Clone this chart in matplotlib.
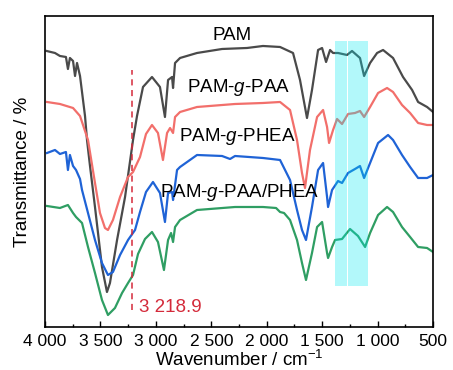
import numpy as np
import matplotlib
matplotlib.use('Agg')
import matplotlib.pyplot as plt
from matplotlib.ticker import MultipleLocator

plt.rcParams['font.family'] = ['Liberation Sans', 'DejaVu Sans']
plt.rcParams['mathtext.fontset'] = 'custom'
plt.rcParams['mathtext.rm'] = 'Liberation Sans'
plt.rcParams['mathtext.it'] = 'Liberation Sans:italic'

# wavenumber (cm-1) and transmittance (a.u., curves are offset)
pam_x = [3985, 3910, 3865, 3811, 3793, 3775, 3747, 3729, 3711, 3684, 3639, 3621, 3594, 3549,
         3486, 3441, 3414, 3350, 3278, 3206, 3170, 3116, 3035, 2963, 2918, 2890, 2854, 2845,
         2827, 2782, 2629, 2403, 2178, 2034, 1880, 1763, 1700, 1637, 1592, 1537, 1501, 1465,
         1429, 1402, 1357, 1276, 1231, 1159, 1122, 1068, 1005, 951, 861, 771, 689, 635, 554, 500]
pam_y = [276, 274, 271, 270, 258, 269, 266, 251, 264, 251, 211, 187, 161, 120,
         60, 35, 44, 87, 130, 187, 211, 240, 250, 240, 210, 247, 250, 239,
         264, 269, 274, 278, 279, 281, 280, 274, 247, 209, 237, 277, 279, 265,
         277, 274, 274, 272, 276, 269, 251, 264, 274, 277, 269, 250, 237, 225, 220, 215]

paa_x = [3982, 3865, 3747, 3684, 3612, 3549, 3504, 3459, 3432, 3387, 3323, 3251, 3206, 3143,
         3089, 3035, 2981, 2936, 2899, 2872, 2845, 2827, 2782, 2629, 2286, 2034, 1880, 1790,
         1727, 1682, 1655, 1610, 1546, 1492, 1456, 1438, 1402, 1366, 1321, 1267, 1204, 1159,
         1122, 1068, 996, 915, 861, 780, 707, 635, 554, 500]
paa_y = [225, 223, 219, 211, 187, 144, 114, 99, 97, 107, 130, 150, 155, 170,
         193, 202, 194, 167, 194, 199, 194, 210, 215, 220, 223, 224, 225, 217,
         187, 154, 139, 177, 210, 217, 200, 184, 197, 208, 203, 213, 214, 216,
         210, 220, 234, 239, 235, 222, 214, 204, 202, 202]

phea_x = [3982, 3910, 3865, 3811, 3793, 3775, 3747, 3720, 3684, 3666, 3612, 3549, 3486, 3432,
          3387, 3323, 3251, 3188, 3143, 3089, 3026, 2963, 2918, 2890, 2854, 2845, 2809, 2782,
          2629, 2403, 2331, 2286, 2034, 1880, 1790, 1727, 1682, 1646, 1592, 1537, 1492, 1456,
          1447, 1411, 1357, 1321, 1267, 1204, 1159, 1122, 1068, 996, 906, 861, 780, 707, 635,
          554, 500]
phea_y = [174, 177, 173, 175, 157, 172, 161, 157, 148, 137, 114, 87, 64, 52,
          55, 72, 87, 97, 115, 135, 145, 134, 105, 134, 135, 127, 157, 160,
          172, 171, 168, 171, 169, 167, 147, 117, 97, 87, 120, 157, 164, 130,
          120, 137, 146, 144, 154, 158, 161, 149, 164, 184, 192, 187, 172, 160, 149,
          149, 152]

mix_x = [3982, 3865, 3793, 3747, 3720, 3666, 3612, 3549, 3486, 3432, 3369, 3305, 3251, 3206,
         3161, 3098, 3035, 2981, 2927, 2890, 2863, 2845, 2827, 2782, 2629, 2286, 2034, 1916,
         1880, 1844, 1790, 1727, 1682, 1646, 1592, 1546, 1501, 1456, 1447, 1411, 1384, 1321,
         1249, 1177, 1113, 1068, 996, 915, 861, 780, 707, 635, 554, 500]
mix_y = [121, 119, 122, 114, 110, 104, 80, 54, 27, 12, 19, 34, 44, 52,
         73, 88, 95, 85, 57, 87, 94, 85, 100, 107, 117, 120, 120, 119,
         115, 114, 107, 87, 64, 47, 74, 100, 105, 74, 69, 80, 87, 88,
         98, 91, 80, 94, 112, 120, 115, 100, 90, 80, 79, 75]

names = ['PAM', 'PAM-$\\mathit{g}$-PAA', 'PAM-$\\mathit{g}$-PHEA', 'PAM-$\\mathit{g}$-PAA/PHEA']
colors = ['#4a4a4a', '#f26f6b', '#1f63d6', '#2f9e63']
label_x = [2313, 2259, 2268, 2241]
label_y = [291, 239, 190, 134]

bands = [(1385, 1277), (1266, 1086)]
band_y = (41, 286)
peak = 3218.9

xticks = [4000, 3500, 3000, 2500, 2000, 1500, 1000, 500]
xtick_labels = ['4 000', '3 500', '3 000', '2 500', '2 000', '1 500', '1 000', '500']

fig = plt.figure(figsize=(4.53, 3.70), dpi=100)
ax = fig.add_axes([0.0993, 0.1162, 0.8567, 0.8406])

series = [(pam_x, pam_y), (paa_x, paa_y), (phea_x, phea_y), (mix_x, mix_y)]
for i in range(0, len(series)):
	ax.plot(series[i][0], series[i][1], color=colors[i], lw=1.6, zorder=2)
	ax.text(label_x[i], label_y[i], names[i], fontsize=13.5, ha='center', va='center', zorder=4)

for b in bands:
	ax.fill_between([b[0], b[1]], band_y[0], band_y[1], color='#00e8f0', alpha=0.3, lw=0, zorder=3)

ax.plot([peak, peak], [17, 257], ls=(0, (4, 3)), color='#d42a3a', lw=1.1, zorder=3)
ax.text(3150, 20, '3 218.9', color='#d42a3a', fontsize=13.5, ha='left', va='center')

ax.set_xlim(4000, 500)
ax.set_ylim(0, 311)
ax.set_xticks(xticks)
ax.set_xticklabels(xtick_labels)
ax.xaxis.set_minor_locator(MultipleLocator(250))
ax.set_yticks([])
ax.tick_params(axis='x', which='major', direction='in', length=4, width=1, labelsize=12.5, pad=5)
ax.tick_params(axis='x', which='minor', direction='in', length=2.5, width=1)
for s in ax.spines.values():
	s.set_linewidth(1.2)
ax.set_xlabel('Wavenumber / cm$^{-1}$', fontsize=13.5, labelpad=1)
ax.set_ylabel('Transmittance / %', fontsize=13.5, labelpad=10)

fig.savefig('out.png', dpi=100)
